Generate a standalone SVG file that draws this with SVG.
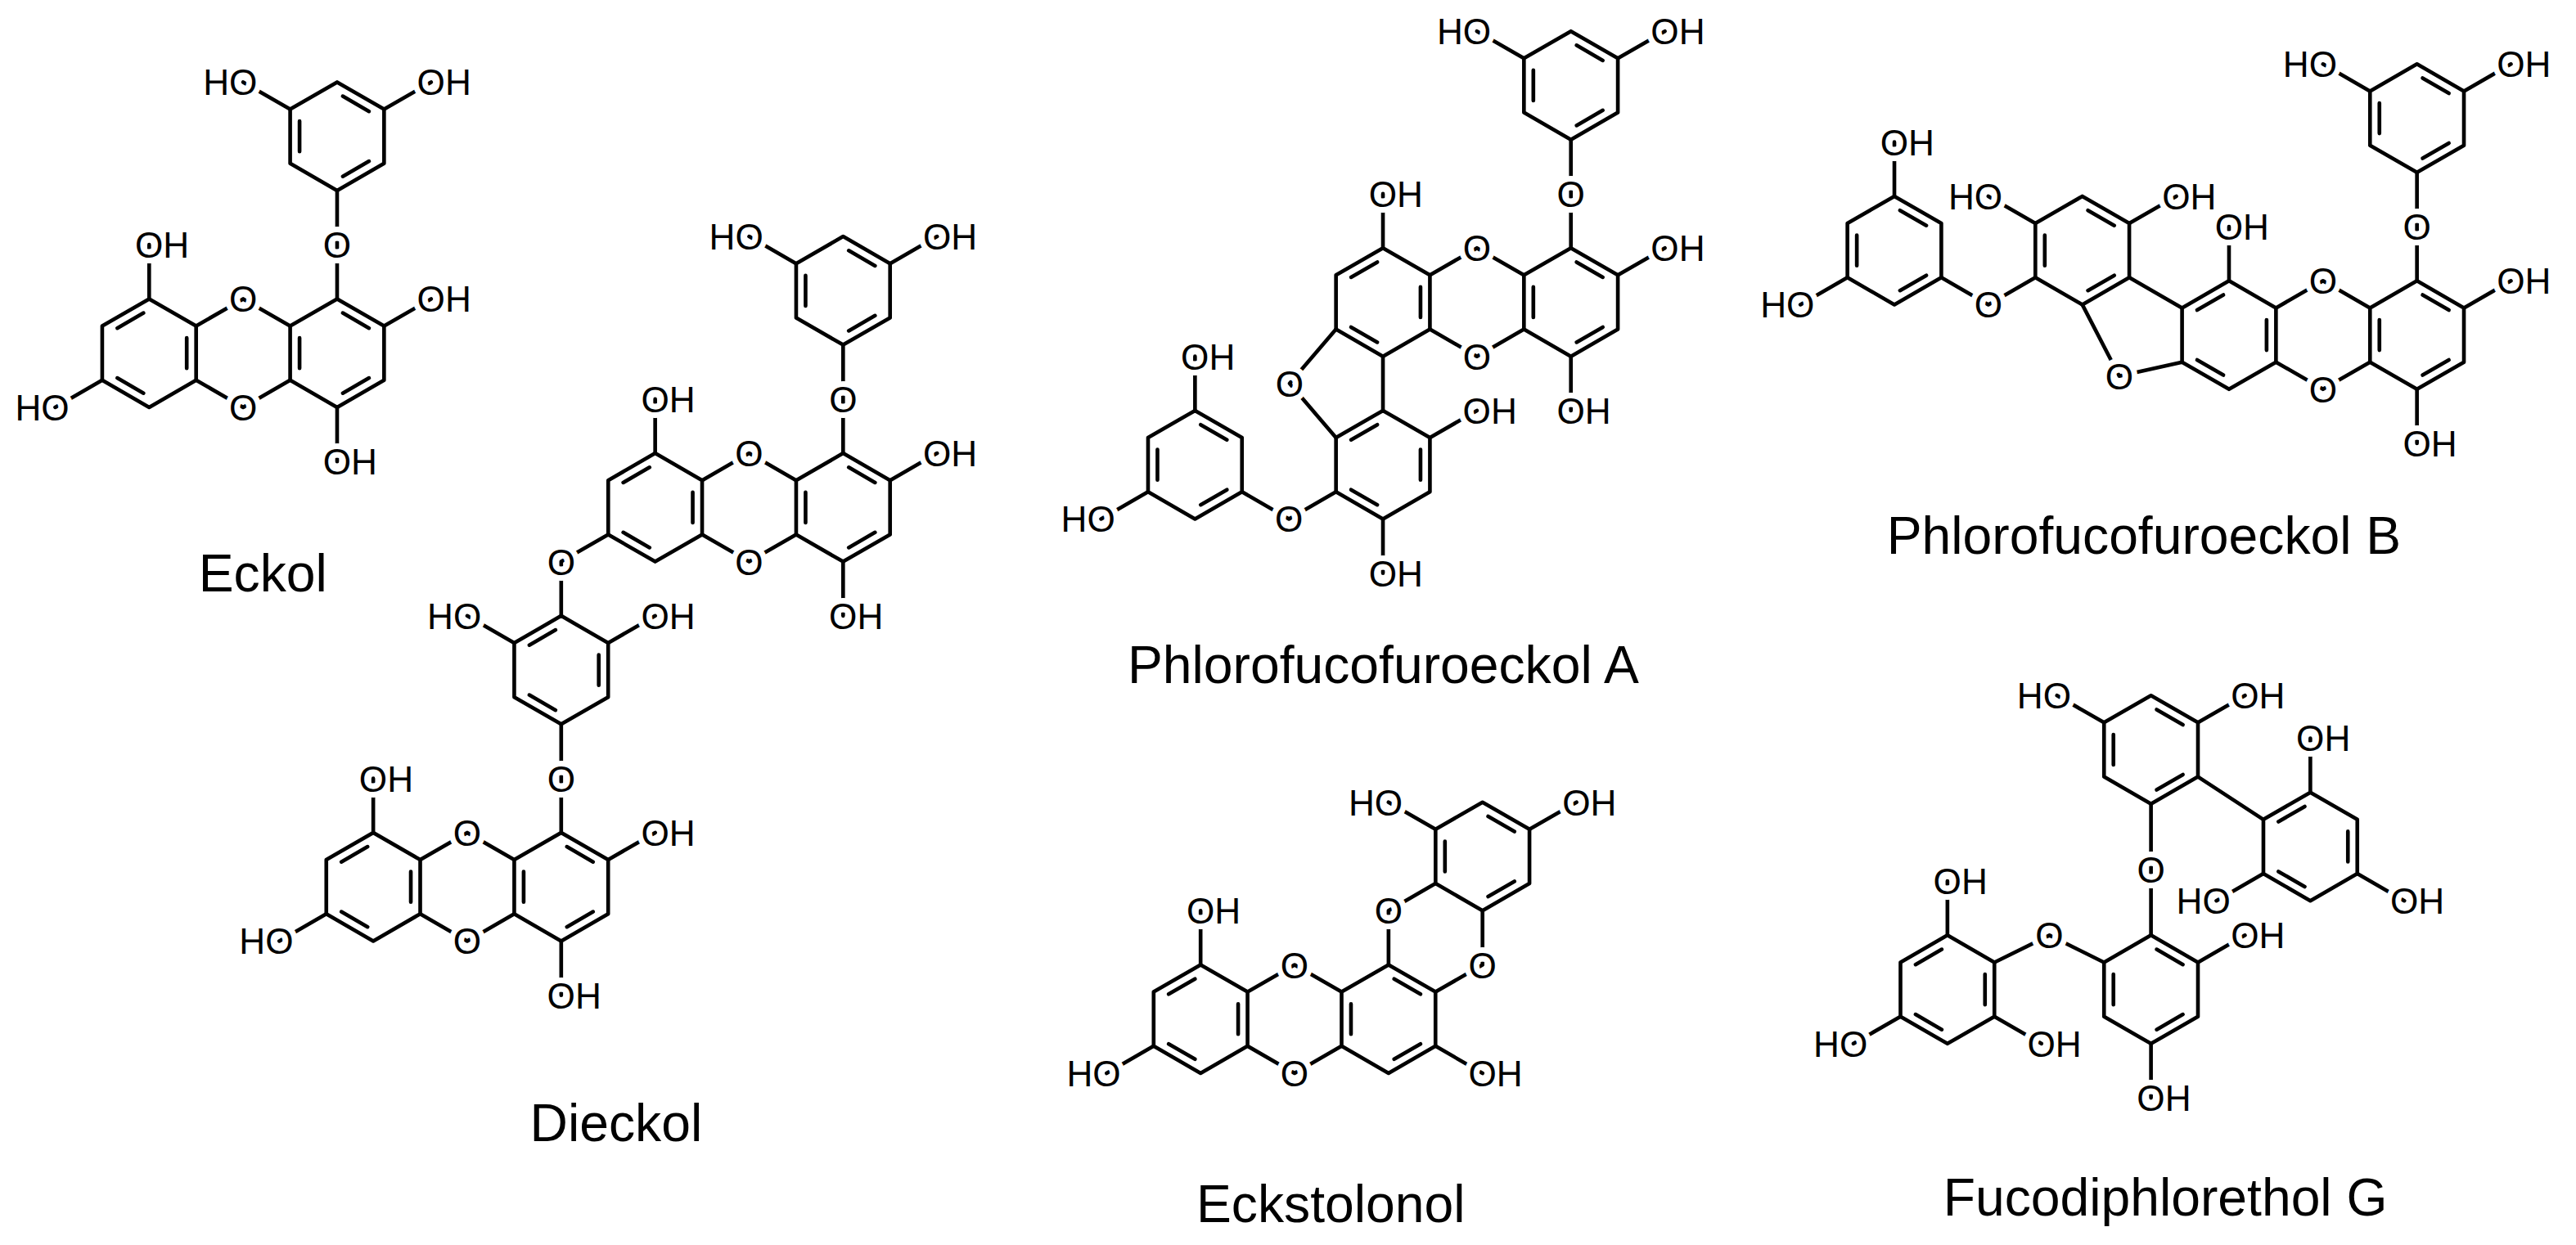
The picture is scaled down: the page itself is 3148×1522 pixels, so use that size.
<svg xmlns="http://www.w3.org/2000/svg" xmlns:xlink="http://www.w3.org/1999/xlink" width="3148" height="1522" viewBox="0 0 3148 1522">
<style>
.b{stroke:#000;stroke-width:2.3;fill:none;stroke-linecap:round;stroke-linejoin:round}
text{font-family:"Liberation Sans",Arial,sans-serif;fill:#000}
.a{font-size:22px;stroke:#fff;stroke-width:7;paint-order:stroke;stroke-linejoin:round}
.e{text-anchor:end}
.m{text-anchor:middle}
.n{font-size:32px;text-anchor:middle}
</style>
<defs>
<g id="rA" class="b"><polygon points="0,-33 28.58,-16.5 28.58,16.5 0,33 -28.58,16.5 -28.58,-16.5"/><path d="M3.43,-24.42L19.43,-15.18M19.43,15.18L3.43,24.42M-22.86,9.24L-22.86,-9.24"/></g>
<g id="rB" class="b"><polygon points="0,-33 28.58,-16.5 28.58,16.5 0,33 -28.58,16.5 -28.58,-16.5"/><path d="M22.86,-9.24L22.86,9.24M-3.43,24.42L-19.43,15.18M-19.43,-15.18L-3.43,-24.42"/></g>
</defs>
<rect width="3148" height="1522" fill="#fff"/>
<g transform="scale(2.00765)">
<g id="eckol">
<use href="#rB" x="90.8" y="215"/><use href="#rA" x="205.2" y="215"/><use href="#rA" x="205.2" y="83"/>
<path class="b" d="M119.4,198.5L148,182L176.6,198.5M119.4,231.5L148,248L176.6,231.5M205.2,182V116M90.8,182V149M62.2,231.5L33.6,248M233.8,198.5L262.4,182M205.2,248V281M176.6,66.5L148,50M233.8,66.5L262.4,50"/>
<text class="a m" x="148" y="190">O</text><text class="a m" x="148" y="256">O</text><text class="a m" x="205.2" y="157">O</text>
<text class="a" x="82.2" y="157">OH</text><text class="a e" x="42.2" y="256">HO</text><text class="a" x="253.8" y="190">OH</text><text class="a" x="196.6" y="289">OH</text><text class="a e" x="156.6" y="58">HO</text><text class="a" x="253.8" y="58">OH</text>
<text class="n" x="160" y="360">Eckol</text>
</g>
<g id="dieckol">
<use href="#rB" x="398.8" y="309"/><use href="#rA" x="513.2" y="309"/><use href="#rA" x="513.2" y="177"/><use href="#rB" x="341.6" y="408"/>
<use href="#rB" x="227.2" y="540"/><use href="#rA" x="341.6" y="540"/>
<path class="b" d="M427.4,292.5L456,276L484.6,292.5M427.4,325.5L456,342L484.6,325.5M398.8,276V243M370.2,325.5L341.6,342V375M513.2,276V210M484.6,160.5L456,144M541.8,160.5L570.4,144M541.8,292.5L570.4,276M513.2,342V375M313,391.5L284.4,375M370.2,391.5L398.8,375M341.6,441V507M255.8,523.5L284.4,507L313,523.5M255.8,556.5L284.4,573L313,556.5M227.2,507V474M198.6,556.5L170,573M370.2,523.5L398.8,507M341.6,573V606"/>
<text class="a m" x="456" y="284">O</text><text class="a m" x="456" y="350">O</text><text class="a m" x="341.6" y="350">O</text><text class="a m" x="513.2" y="251">O</text>
<text class="a" x="390.2" y="251">OH</text><text class="a e" x="464.6" y="152">HO</text><text class="a" x="561.8" y="152">OH</text><text class="a" x="561.8" y="284">OH</text><text class="a" x="504.6" y="383">OH</text>
<text class="a e" x="293" y="383">HO</text><text class="a" x="390.2" y="383">OH</text><text class="a m" x="341.6" y="482">O</text>
<text class="a m" x="284.4" y="515">O</text><text class="a m" x="284.4" y="581">O</text><text class="a" x="218.6" y="482">OH</text><text class="a e" x="178.6" y="581">HO</text><text class="a" x="390.2" y="515">OH</text><text class="a" x="333" y="614">OH</text>
<text class="n" x="375" y="695">Dieckol</text>
</g>
<g id="pffa">
<use href="#rA" x="956.2" y="184"/><use href="#rB" x="841.8" y="184"/><use href="#rA" x="956.2" y="52"/><use href="#rB" x="841.8" y="283"/><use href="#rA" x="727.4" y="283"/>
<path class="b" d="M870.4,167.5L899,151L927.6,167.5M870.4,200.5L899,217L927.6,200.5M956.2,151V85M927.6,35.5L899,19M984.8,35.5L1013.4,19M984.8,167.5L1013.4,151M956.2,217V250M841.8,151V118M841.8,217V250M813.2,200.5L785,233.5L813.2,266.5M870.4,266.5L899,250M841.8,316V349M813.2,299.5L784.6,316L756,299.5M727.4,250V217M698.8,299.5L670.2,316"/>
<text class="a m" x="899" y="159">O</text><text class="a m" x="899" y="225">O</text><text class="a m" x="956.2" y="126">O</text>
<text class="a e" x="907.6" y="27">HO</text><text class="a" x="1004.8" y="27">OH</text><text class="a" x="1004.8" y="159">OH</text><text class="a" x="947.6" y="258">OH</text><text class="a" x="833.2" y="126">OH</text>
<text class="a m" x="785" y="241.5">O</text><text class="a" x="890.4" y="258">OH</text><text class="a" x="833.2" y="357">OH</text><text class="a m" x="784.6" y="324">O</text><text class="a" x="718.8" y="225">OH</text><text class="a e" x="678.8" y="324">HO</text>
<text class="n" x="842" y="416">Phlorofucofuroeckol A</text>
</g>
<g id="pffb">
<use href="#rA" x="1471.2" y="204"/><use href="#rB" x="1356.8" y="204"/><use href="#rA" x="1471.2" y="72"/><use href="#rA" x="1267.5" y="152.5"/><use href="#rA" x="1153.1" y="152.5"/>
<path class="b" d="M1385.4,187.5L1414,171L1442.6,187.5M1385.4,220.5L1414,237L1442.6,220.5M1471.2,171V105M1442.6,55.5L1414,39M1499.8,55.5L1528.4,39M1499.8,187.5L1528.4,171M1471.2,237V270M1356.8,171V138M1328.2,187.5L1296.1,169M1267.5,185.5L1290,229L1328.2,220.5M1238.9,136L1210.3,119.5M1296.1,136L1324.7,119.5M1238.9,169L1210.3,185.5L1181.7,169M1153.1,119.5V86.5M1124.5,169L1095.9,185.5"/>
<text class="a m" x="1414" y="179">O</text><text class="a m" x="1414" y="245">O</text><text class="a m" x="1471.2" y="146">O</text>
<text class="a e" x="1422.6" y="47">HO</text><text class="a" x="1519.8" y="47">OH</text><text class="a" x="1519.8" y="179">OH</text><text class="a" x="1462.6" y="278">OH</text><text class="a" x="1348.2" y="146">OH</text>
<text class="a m" x="1290" y="237">O</text><text class="a e" x="1218.9" y="127.5">HO</text><text class="a" x="1316.1" y="127.5">OH</text><text class="a m" x="1210.3" y="193.5">O</text><text class="a" x="1144.5" y="94.5">OH</text><text class="a e" x="1104.5" y="193.5">HO</text>
<text class="n" x="1305" y="337">Phlorofucofuroeckol B</text>
</g>
<g id="eckstolonol">
<use href="#rB" x="730.8" y="620.5"/><use href="#rA" x="845.2" y="620.5"/><use href="#rA" x="902.4" y="521.5"/>
<path class="b" d="M759.4,604L788,587.5L816.6,604M759.4,637L788,653.5L816.6,637M730.8,587.5V554.5M702.2,637L673.6,653.5M845.2,587.5V554.5L873.8,538M902.4,554.5V587.5L873.8,604M873.8,505L845.2,488.5M931,505L959.6,488.5M873.8,637L902.4,653.5"/>
<text class="a m" x="788" y="595.5">O</text><text class="a m" x="788" y="661.5">O</text><text class="a m" x="845.2" y="562.5">O</text><text class="a m" x="902.4" y="595.5">O</text>
<text class="a" x="722.2" y="562.5">OH</text><text class="a e" x="682.2" y="661.5">HO</text><text class="a e" x="853.8" y="496.5">HO</text><text class="a" x="951" y="496.5">OH</text><text class="a" x="893.8" y="661.5">OH</text>
<text class="n" x="810" y="744">Eckstolonol</text>
</g>
<g id="fdpg">
<use href="#rA" x="1309.3" y="456.5"/><use href="#rB" x="1406.3" y="515.5"/><use href="#rA" x="1309.3" y="602.5"/><use href="#rB" x="1185.4" y="602.5"/>
<path class="b" d="M1280.7,440L1252.1,423.5M1337.9,440L1366.5,423.5M1309.3,489.5V569.5M1337.9,473L1377.7,499M1406.3,482.5V449.5M1377.7,532L1349.1,548.5M1434.9,532L1463.5,548.5M1337.9,586L1366.5,569.5M1280.7,586L1247.5,569.5L1214,586M1309.3,635.5V668.5M1185.4,569.5V536.5M1156.8,619L1128.2,635.5M1214,619L1242.6,635.5"/>
<text class="a e" x="1260.7" y="431.5">HO</text><text class="a" x="1357.9" y="431.5">OH</text><text class="a m" x="1309.3" y="537.5">O</text>
<text class="a" x="1397.7" y="457.5">OH</text><text class="a e" x="1357.7" y="556.5">HO</text><text class="a" x="1454.9" y="556.5">OH</text>
<text class="a" x="1357.9" y="577.5">OH</text><text class="a m" x="1247.5" y="577.5">O</text><text class="a" x="1300.7" y="676.5">OH</text>
<text class="a" x="1176.8" y="544.5">OH</text><text class="a e" x="1136.8" y="643.5">HO</text><text class="a" x="1234" y="643.5">OH</text>
<text class="n" x="1318" y="740">Fucodiphlorethol G</text>
</g>
</g>
</svg>
